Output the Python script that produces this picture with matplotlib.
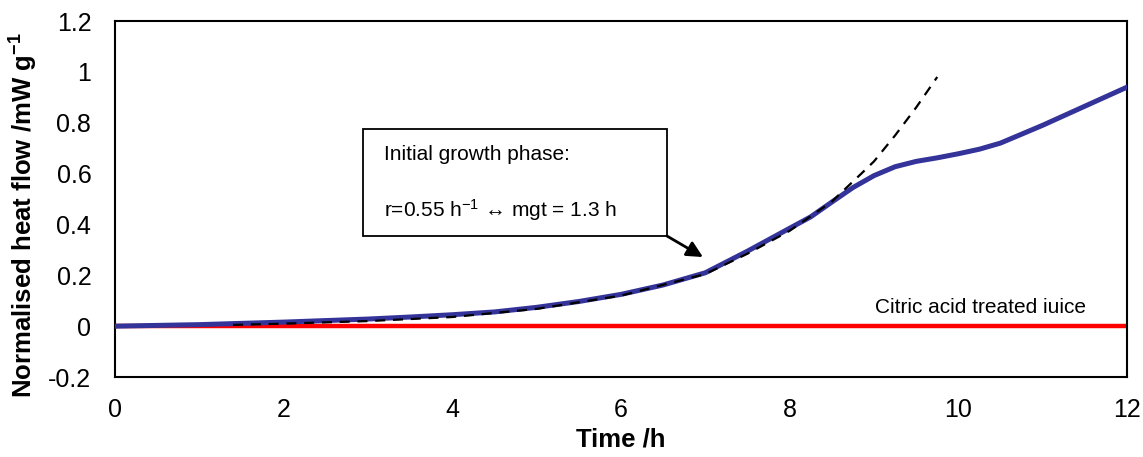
import matplotlib
matplotlib.use("Agg")
import matplotlib.pyplot as plt
from matplotlib.patches import Rectangle

plt.rcParams['font.family'] = ['Liberation Sans', 'DejaVu Sans']
plt.rcParams['mathtext.fontset'] = 'custom'
plt.rcParams['mathtext.rm'] = 'Liberation Sans'
plt.rcParams['mathtext.it'] = 'Liberation Sans:italic'
plt.rcParams['mathtext.bf'] = 'Liberation Sans:bold'

# Measured heat flow (blue)
time_blue = [0, 1, 2, 3, 3.5, 4, 4.5, 5, 5.5, 6, 6.5, 7, 7.5, 7.65, 8, 8.25, 8.5, 8.75, 9, 9.25,
             9.5, 9.75, 10, 10.25, 10.5, 11, 11.5, 12]
flow_blue = [0, 0.006, 0.016, 0.028, 0.036, 0.045, 0.056, 0.074, 0.097, 0.125, 0.162, 0.21, 0.295, 0.322,
             0.385, 0.43, 0.488, 0.545, 0.592, 0.627, 0.648, 0.662, 0.678, 0.696, 0.72, 0.79, 0.865, 0.94]

# Exponential fit (black dashed)
time_fit = [1.4, 2, 3, 4, 5, 6, 7, 7.5, 8, 8.5, 8.85, 9.0, 9.25, 9.5, 9.75]
flow_fit = [0.005, 0.01, 0.02, 0.036, 0.068, 0.12, 0.205, 0.285, 0.375, 0.49, 0.6, 0.648, 0.75, 0.86, 0.98]

# Citric acid treated juice (red)
time_red = [0, 12]
flow_red = [0, 0]

xticks = [0, 2, 4, 6, 8, 10, 12]
yticks = [-0.2, 0, 0.2, 0.4, 0.6, 0.8, 1.0, 1.2]
ytick_labels = ['-0.2', '0', '0.2', '0.4', '0.6', '0.8', '1', '1.2']

fig = plt.figure(figsize=(11.43, 4.57), dpi=100)
ax = fig.add_axes([0.1006, 0.175, 0.8854, 0.779])

ax.plot(time_red, flow_red, color='#ff0000', lw=3.2, solid_capstyle='butt', zorder=2)
ax.plot(time_blue, flow_blue, color='#333399', lw=3.6, zorder=3, solid_joinstyle='round')
ax.plot(time_fit, flow_fit, color='black', lw=1.6, ls=(0, (4.5, 3.5)), zorder=4)

ax.set_xlim(0, 12)
ax.set_ylim(-0.2, 1.2)
ax.set_xticks(xticks)
ax.set_xticklabels([str(t) for t in xticks])
ax.set_yticks(yticks)
ax.set_yticklabels(ytick_labels)
ax.tick_params(length=0, labelsize=18)
ax.tick_params(axis='y', pad=17)
ax.tick_params(axis='x', pad=15)
for s in ax.spines.values():
    s.set_linewidth(1.5)

ax.set_xlabel('Time /h', fontsize=18.5, fontweight='bold', labelpad=4)
ax.set_ylabel(r'Normalised heat flow /mW g$^{\mathbf{-1}}$', fontsize=18.5, fontweight='bold')
ax.yaxis.set_label_coords(-0.074, 0.455)

# Annotation box
rect = Rectangle((0.245, 0.396), 0.3005, 0.3006, transform=ax.transAxes,
                 fill=True, facecolor='white', edgecolor='black', lw=1.3, zorder=5)
ax.add_patch(rect)
ax.text(0.266, 0.61, 'Initial growth phase:', transform=ax.transAxes,
        fontsize=15, va='baseline', ha='left', zorder=6)
ax.text(0.266, 0.449, 'r=0.55 h$^{-1}$ ↔ mgt = 1.3 h', transform=ax.transAxes,
        fontsize=15, va='baseline', ha='left', zorder=6)
ax.annotate('', xy=(0.581, 0.337), xytext=(0.5455, 0.396), xycoords='axes fraction',
            textcoords='axes fraction',
            arrowprops=dict(arrowstyle='-|>', color='black', lw=2, mutation_scale=24,
                            shrinkA=0, shrinkB=0), zorder=6)

ax.text(0.751, 0.179, 'Citric acid treated iuice', transform=ax.transAxes,
        fontsize=15, va='baseline', ha='left')

fig.savefig('out.png', dpi=100)
